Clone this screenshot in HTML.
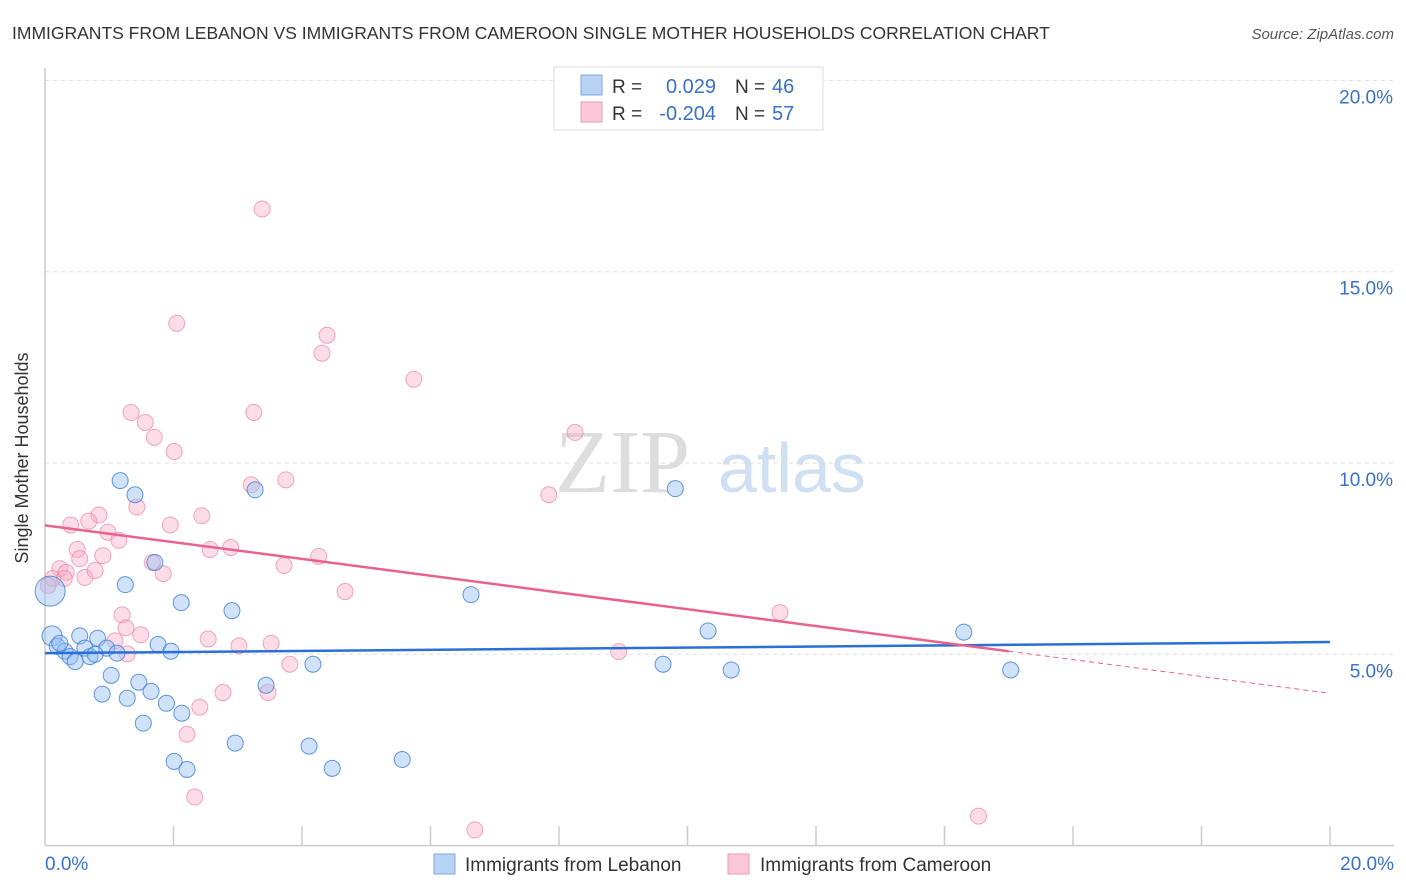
<!DOCTYPE html>
<html><head><meta charset="utf-8"><style>
body{margin:0;background:#fff;font-family:"Liberation Sans",sans-serif;}
#c{position:absolute;left:0;top:0;}
</style></head><body>
<svg id="c" width="1406" height="892">
<text x="12" y="39" font-size="17.5" fill="#333">IMMIGRANTS FROM LEBANON VS IMMIGRANTS FROM CAMEROON SINGLE MOTHER HOUSEHOLDS CORRELATION CHART</text>
<text x="1394" y="39" font-size="15" fill="#555" font-style="italic" text-anchor="end">Source: ZipAtlas.com</text>
<text x="28" y="458" font-size="18" fill="#333" text-anchor="middle" transform="rotate(-90 28 458)">Single Mother Households</text>
<text x="555" y="492" font-size="90" fill="#ddd" font-family="Liberation Serif">ZIP</text>
<text x="718" y="492" font-size="70" fill="#cfe0f3">atlas</text>
<g id="grid"></g><g id="pts"></g><g id="trend"></g>
<g>
<rect x="554" y="67" width="269" height="63" fill="#fff" stroke="#ddd"/>
<rect x="581" y="75" width="21" height="20" fill="#b8d3f3" stroke="#7aa8e0"/>
<rect x="581" y="102" width="21" height="20" fill="#fcc8d8" stroke="#ef9ab5"/>
<text x="612" y="93" font-size="19" fill="#333">R = </text><text x="716" y="93" font-size="20" fill="#3a70c8" text-anchor="end">0.029</text>
<text x="735" y="93" font-size="19" fill="#333">N = </text><text x="772" y="93" font-size="20" fill="#3a70c8">46</text>
<text x="612" y="120" font-size="19" fill="#333">R = </text><text x="716" y="120" font-size="20" fill="#3a70c8" text-anchor="end">-0.204</text>
<text x="735" y="120" font-size="19" fill="#333">N = </text><text x="772" y="120" font-size="20" fill="#3a70c8">57</text>
</g>
<g>
<rect x="434" y="854" width="21" height="20" fill="#b8d3f3" stroke="#7aa8e0"/>
<text x="465" y="871" font-size="19" fill="#333">Immigrants from Lebanon</text>
<rect x="728" y="854" width="21" height="20" fill="#fcc8d8" stroke="#ef9ab5"/>
<text x="760" y="871" font-size="19" fill="#333">Immigrants from Cameroon</text>
</g>
</svg>
<script>
const yTicks=[5,10,15,20];
const yTickLabels=["5.0%","10.0%","15.0%","20.0%"];
const xTickLabels=["0.0%","20.0%"];
const lebanonX=[0.11,0.08,0.19,0.31,0.23,0.54,0.39,0.47,0.62,0.70,0.82,0.96,1.12,0.89,1.03,1.28,1.46,1.65,1.89,2.13,1.53,1.76,1.96,2.12,1.71,1.25,1.17,1.40,2.01,2.21,2.96,2.91,3.27,3.44,4.11,4.17,4.47,5.56,6.63,9.62,9.81,10.32,10.68,14.30,15.03,0.78];
const lebanonY=[5.48,6.65,5.21,5.08,5.29,5.48,4.94,4.81,5.16,4.94,5.42,5.16,5.03,3.96,4.45,3.85,4.27,4.03,3.72,3.46,3.20,5.26,5.08,6.35,7.40,6.82,9.54,9.17,2.20,1.99,2.68,6.14,9.30,4.19,2.60,4.74,2.02,2.25,6.56,4.74,9.33,5.61,4.59,5.58,4.59,5.00];
const lebanonR=[10,15,8,8,8,8,8,8,8,8,8,8,8,8,8,8,8,8,8,8,8,8,8,8,8,8,8,8,8,8,8,8,8,8,8,8,8,8,8,8,8,8,8,8,8,8];
const cameroonX=[3.38,2.05,4.39,4.31,5.74,1.34,3.25,1.56,1.70,2.01,8.25,0.84,1.43,7.84,3.21,3.75,0.40,0.68,0.98,1.15,1.95,2.44,0.50,0.54,0.90,0.23,0.33,0.12,0.30,0.05,0.62,0.78,1.67,1.84,2.57,2.89,4.26,3.72,1.20,1.26,1.09,1.28,1.49,2.54,3.02,4.67,11.44,3.52,3.81,8.93,2.77,3.47,2.41,2.21,2.33,6.69,14.53];
const cameroonY=[16.64,13.65,13.34,12.87,12.19,11.32,11.32,11.06,10.67,10.30,10.80,8.64,8.85,9.17,9.43,9.56,8.38,8.48,8.19,7.98,8.38,8.62,7.74,7.50,7.58,7.24,7.14,6.98,6.98,6.80,7.01,7.19,7.40,7.11,7.74,7.79,7.56,7.32,6.03,5.69,5.35,5.01,5.51,5.40,5.22,6.64,6.09,5.29,4.74,5.07,4.00,4.00,3.62,2.91,1.27,0.41,0.77];
const ns="http://www.w3.org/2000/svg";
const X0=45,X1=1330,Y0=845.6,PY=191.3/5;
function sx(v){return X0+(X1-X0)*v/20;}
function sy(v){return Y0-v*PY;}
function mk(t,a,p){const e=document.createElementNS(ns,t);for(const k in a)e.setAttribute(k,a[k]);p.appendChild(e);return e;}
const grid=document.getElementById('grid');
yTicks.forEach((t,i)=>{
 const l=mk('line',{x1:X0,x2:1394,y1:sy(t),y2:sy(t),stroke:'#ddd','stroke-dasharray':'4,4'},grid);
 
 
 const tx=mk('text',{x:1393,y:sy(t)+23,'font-size':19,fill:'#3a70c8','text-anchor':'end'},grid);
 tx.textContent=yTickLabels[i];
 
 
});
const ax=mk('line',{x1:X0,x2:X0,y1:68,y2:Y0,stroke:'#ccc','stroke-width':1.5},grid);


const bx=mk('line',{x1:X0,x2:1394,y1:Y0,y2:Y0,stroke:'#ccc','stroke-width':1.5},grid);


for(let i=1;i<=10;i++){
 const tk=mk('line',{x1:sx(i*2),x2:sx(i*2),y1:826,y2:Y0,stroke:'#ccc','stroke-width':1.5},grid);
 
 
}
[[0,'start',45],[20,'end',1394]].forEach((d,i)=>{
 const tx=mk('text',{x:d[2],y:870,'font-size':19,fill:'#3a70c8','text-anchor':d[1]},grid);
 tx.textContent=xTickLabels[i];
 
 
});
const pts=document.getElementById('pts');
cameroonX.forEach((x,i)=>{
 const c=mk('circle',{cx:sx(x),cy:sy(cameroonY[i]),r:8,fill:'rgba(248,170,195,0.4)',stroke:'rgba(236,130,165,0.7)','stroke-width':1},pts);
 
 
});
lebanonX.forEach((x,i)=>{
 const c=mk('circle',{cx:sx(x),cy:sy(lebanonY[i]),r:lebanonR[i],fill:'rgba(150,190,240,0.45)',stroke:'rgba(60,125,215,0.8)','stroke-width':1},pts);
 
 
});
const tr=document.getElementById('trend');
const bl=mk('line',{x1:sx(0),y1:sy(5.03),x2:sx(20),y2:sy(5.32),stroke:'#2a6fd6','stroke-width':2.5},tr);


const pl=mk('line',{x1:sx(0),y1:sy(8.37),x2:sx(15.0),y2:sy(5.08),stroke:'#e8628e','stroke-width':2.5},tr);


const pd=mk('line',{x1:sx(15.0),y1:sy(5.08),x2:sx(20),y2:sy(3.98),stroke:'#e8628e','stroke-width':1,'stroke-dasharray':'5,4'},tr);


</script>
</body></html>
